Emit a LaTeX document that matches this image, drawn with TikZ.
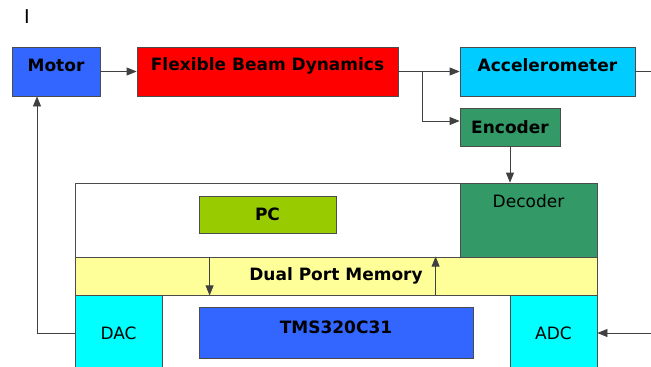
\documentclass[tikz,border=0pt]{standalone}
\usepackage{fontspec}
\setmainfont{DejaVu Sans}
\usetikzlibrary{arrows.meta, positioning}

\definecolor{motorblue}{RGB}{51,102,255}
\definecolor{beamred}{RGB}{255,0,0}
\definecolor{accblue}{RGB}{0,204,255}
\definecolor{encgreen}{RGB}{51,153,102}
\definecolor{pcgreen}{RGB}{153,204,0}
\definecolor{memyellow}{RGB}{255,255,153}
\definecolor{convcyan}{RGB}{0,255,255}

\begin{document}
\begin{tikzpicture}[
  x=1pt, y=-1pt,
  font=\fontsize{17}{19}\selectfont\bfseries,
  >={Triangle[length=10pt, width=8pt]},
  blk/.style={rectangle, draw=black!70, line width=0.8pt, inner sep=0pt,
              align=center},
  blk-motor/.style={blk, fill=motorblue},
  blk-beam/.style={blk, fill=beamred},
  blk-acc/.style={blk, fill=accblue},
  blk-enc/.style={blk, fill=encgreen},
  blk-pc/.style={blk, fill=pcgreen},
  blk-mem/.style={blk, fill=memyellow},
  blk-conv/.style={blk, fill=convcyan},
  top-lbl/.style={anchor=center},
  thin-lbl/.style={font=\fontsize{17}{19}\selectfont},
  wire/.style={draw=black!75, line width=0.8pt}
]
  \path[use as bounding box, clip] (0,0) rectangle (651,367);
  \fill[white] (0,0) rectangle (651,367);

  % stray mark in the corner
  \node[font=\fontsize{19}{20}\selectfont] (mark) at (27,17) {I};

  % ===========================================================
  % plant side
  % ===========================================================
  \node[blk-motor, minimum width=88, minimum height=49] (mot) at (56,71.5) {};
  \node[blk-beam, minimum width=261, minimum height=49] (beam) at (267.5,71.5) {};
  \node[blk-acc, minimum width=175, minimum height=49] (acc) at (547.5,71.5) {};
  \node[blk-enc, minimum width=100, minimum height=38] (enc) at (510,127) {Encoder};

  % labels sit a little above the box centres
  \node[top-lbl] (mottxt)  at ([yshift=6pt]mot.center)  {Motor};
  \node[top-lbl] (beamtxt) at ([yshift=6pt]beam.center) {Flexible Beam Dynamics};
  \node[top-lbl] (acctxt)  at ([yshift=6pt]acc.center)  {Accelerometer};

  \coordinate (br)     at (422,71.5);
  \coordinate (accout) at (651,71.5);
  \coordinate (adcin)  at (651,333);

  % ===========================================================
  % controller board
  % ===========================================================
  \draw[draw=black!70, line width=0.8pt] (75,183) rectangle (597,380);

  \node[blk-enc, minimum width=137, minimum height=74] (dec) at (528.5,220) {};
  \node[thin-lbl, anchor=north] (dectxt) at ([yshift=-8pt]dec.north) {Decoder};
  \node[blk-pc, minimum width=137, minimum height=37] (pc) at (267.5,214.5) {PC};
  \node[blk-mem, minimum width=522, minimum height=38] (dpm) at (336,276)
    {Dual Port Memory};
  \node[blk-conv, thin-lbl, minimum width=87, minimum height=76] (dac) at (118.5,333) {DAC};
  \node[blk-conv, thin-lbl, minimum width=87, minimum height=76] (adc) at (553.5,333) {ADC};
  \node[blk-motor, minimum width=274, minimum height=51] (dsp) at (336,332.5) {};
  \node[top-lbl] (dsptxt) at ([yshift=5pt]dsp.center) {TMS320C31};

  % ===========================================================
  % connectors
  % ===========================================================
  \draw[wire, ->] (mot) -- (beam);
  \draw[wire, ->] (beam) -- (acc);
  \draw[wire, ->] (br) |- ([yshift=6pt]enc.west);
  \draw[wire] (acc) -- (accout);
  \draw[wire, ->] (enc.south) -- (enc.south |- dec.north);

  \draw[wire, ->] ([xshift=135pt]dpm.north west) -- ([xshift=135pt]dpm.south west);
  \draw[wire, ->] ([xshift=361pt]dpm.south west) -- ([xshift=361pt]dpm.north west);

  \draw[wire, ->] (dac.west) -| ([xshift=-19pt]mot.south);
  \draw[wire, ->] (adcin) -- (adc.east);

\end{tikzpicture}
\end{document}
